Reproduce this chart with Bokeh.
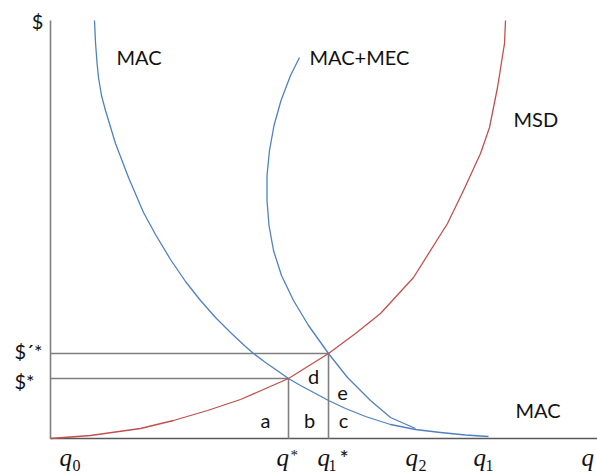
from bokeh.plotting import figure
from bokeh.models import Range1d
from bokeh.core.properties import value
from bokeh.embed import file_html
from bokeh.resources import INLINE

# --- curves (quantity q, price $) ---
mac_q = [44, 45, 46.5, 48, 51, 55, 65, 78, 93, 105, 120, 135, 150, 165, 180, 195, 203,
         215, 228, 238, 250, 265, 278, 295, 315, 340, 365, 390, 415, 438]
mac_p = [418, 396, 376, 361, 343, 328, 295, 261, 226, 204, 179, 157, 138, 121, 106, 92,
         85, 76, 67, 60, 53, 45, 38, 30, 22, 14, 9, 6, 3.5, 2]

mec_q = [249, 240, 230.5, 223.5, 219, 216.5, 216.5, 218.5, 223, 231, 243, 258, 278,
         297, 320, 340, 365]
mec_p = [381, 363, 338, 313, 288, 263, 238, 213, 188, 163, 138, 113, 85, 61, 38, 21, 10]

msd_q = [0, 40, 90, 123, 157, 190, 238, 278, 305, 330, 363, 397, 413, 430, 439, 447,
         454, 455]
msd_p = [0, 3, 10, 18, 28, 39, 60, 85, 105, 125, 161, 215, 248, 285, 311, 351, 395, 418]

# equilibrium values
q_star, p_star = 238, 60
q1_star, p1_star = 278, 85
q_max, p_max = 547, 418

# --- labels ---
curve_names = ["MAC", "MAC+MEC", "MSD", "MAC"]
curve_name_x = [66, 259, 463, 465]
curve_name_y = [382, 382, 320, 29]

price_labels = ["$", "$´*", "$*"]
price_label_x = [-13, -22, -26]
price_label_y = [418, 88, 58]

area_labels = ["a", "b", "c", "d", "e"]
area_x = [215, 259, 293, 263, 292]
area_y = [19, 19, 19, 63, 46]

q_names = ["q", "q", "q", "q", "q", "q"]
q_name_x = [9, 226, 267, 355, 423, 531]
q_subs = ["0", "1", "2", "1"]
q_sub_x = [22, 278, 368, 435]

BLUE = "#4f81bd"
RED = "#c0504d"
GRAY = "#7f7f7f"
INK = "#111111"
FONT = value("Lato")
SERIF = value("Liberation Serif")

p = figure(width=597, height=474, output_backend="svg", toolbar_location=None,
           x_range=Range1d(-50, 547), y_range=Range1d(-36, 438), min_border=0)
p.xaxis.visible = False
p.yaxis.visible = False
p.grid.visible = False
p.outline_line_color = None
p.background_fill_color = "white"
p.border_fill_color = "white"

# axes
p.segment(x0=[0], y0=[0], x1=[0], y1=[p_max], line_color=GRAY, line_width=1.6)
p.segment(x0=[0], y0=[0], x1=[q_max], y1=[0], line_color="#595959", line_width=1.6)

# guide lines at the equilibria
p.segment(x0=[0, 0, q_star, q1_star], y0=[p_star, p1_star, 0, 0],
          x1=[q_star, q1_star, q_star, q1_star], y1=[p_star, p1_star, p_star, p1_star],
          line_color=GRAY, line_width=1.6)

# curves
p.line(mac_q, mac_p, line_color=BLUE, line_width=1.3, line_join="round")
p.line(mec_q, mec_p, line_color=BLUE, line_width=1.3, line_join="round")
p.line(msd_q, msd_p, line_color=RED, line_width=1.3, line_join="round")

# curve names
p.text(x=curve_name_x, y=curve_name_y, text=curve_names, text_font=FONT,
       text_font_size="20px", text_color=INK, text_align="left",
       text_baseline="middle")

# price labels
p.text(x=price_label_x, y=price_label_y, text=price_labels, text_font=FONT,
       text_font_size="20px", text_color=INK, text_align="center",
       text_baseline="middle")

# area letters
p.text(x=area_x, y=area_y, text=area_labels, text_font=FONT,
       text_font_size="20px", text_color=INK, text_align="center",
       text_baseline="middle")

# quantity labels on the horizontal axis
p.text(x=q_name_x, y=[-19] * len(q_name_x), text=q_names, text_font=SERIF,
       text_font_style="italic", text_font_size="25px", text_color=INK,
       text_align="left", text_baseline="middle")
p.text(x=q_sub_x, y=[-27] * len(q_sub_x), text=q_subs, text_font=SERIF,
       text_font_size="16px", text_color=INK, text_align="left",
       text_baseline="middle")
# asterisks: superscript on q*, full-size after q1
p.text(x=[240], y=[-16], text=["*"], text_font=SERIF, text_font_size="15px",
       text_color=INK, text_align="left", text_baseline="middle")
p.text(x=[289], y=[-19], text=["*"], text_font=FONT, text_font_size="22px",
       text_color=INK, text_align="left", text_baseline="middle")

open("out.html", "w").write(file_html(p, INLINE))
